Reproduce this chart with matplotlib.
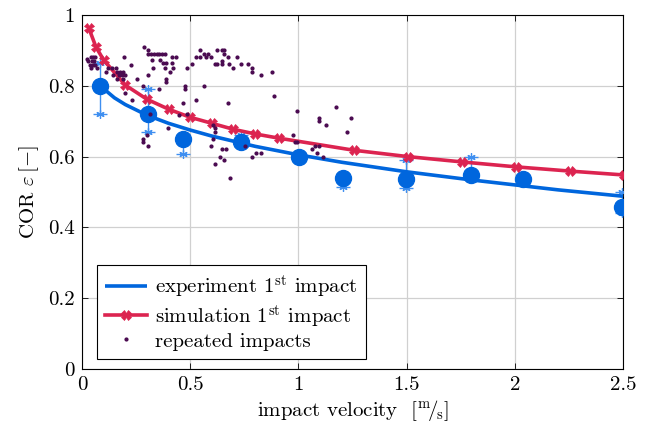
import matplotlib
matplotlib.use('Agg')
import matplotlib.pyplot as plt
import numpy as np

plt.rcParams['font.family'] = 'cmr10'
plt.rcParams['mathtext.fontset'] = 'cm'
plt.rcParams['axes.unicode_minus'] = False
plt.rcParams['font.size'] = 15

# experiment 1st impact: mean values with min/max range
exp_v = [0.083, 0.307, 0.465, 0.735, 1.004, 1.204, 1.497, 1.796, 2.036, 2.497]
exp_cor = [0.80, 0.72, 0.65, 0.64, 0.60, 0.54, 0.538, 0.548, 0.538, 0.458]
exp_lo = [0.72, 0.67, 0.607, 0.63, 0.60, 0.515, 0.51, 0.548, 0.538, 0.44]
exp_hi = [0.864, 0.79, 0.65, 0.66, 0.60, 0.54, 0.59, 0.60, 0.538, 0.50]

# fitted curve of the experiment
fit_v = [0.08, 0.15, 0.2, 0.3, 0.4, 0.5, 0.6, 0.8, 1.0, 1.2, 1.5, 1.8, 2.0, 2.2, 2.5]
fit_cor = [0.802, 0.766, 0.747, 0.717, 0.694, 0.675, 0.658, 0.629, 0.605,
           0.584, 0.557, 0.534, 0.520, 0.506, 0.488]

# simulation 1st impact
sim_v = [0.031, 0.065, 0.10, 0.20, 0.30, 0.40, 0.50, 0.60, 0.70, 0.80, 0.91,
         1.255, 1.505, 1.755, 2.005, 2.255, 2.505]
sim_cor = [0.964, 0.909, 0.873, 0.802, 0.762, 0.734, 0.711, 0.694, 0.677,
           0.664, 0.652, 0.618, 0.600, 0.585, 0.571, 0.559, 0.548]

# repeated impacts
rep_v = [0.03, 0.04, 0.05, 0.06, 0.035, 0.045, 0.055, 0.04, 0.05, 0.06, 0.07, 0.025,
         0.14, 0.155, 0.16, 0.175, 0.19, 0.145, 0.17, 0.185, 0.2, 0.16, 0.19, 0.193,
         0.228, 0.255, 0.2, 0.232, 0.11, 0.12,
         0.285, 0.305, 0.305, 0.32, 0.335, 0.345, 0.355, 0.368, 0.383, 0.322, 0.36,
         0.373, 0.39, 0.414, 0.434, 0.414, 0.383, 0.422, 0.326, 0.407, 0.388, 0.388,
         0.306, 0.356, 0.282, 0.316, 0.396, 0.282, 0.30, 0.303, 0.283,
         0.545, 0.625, 0.648, 0.657, 0.565, 0.584, 0.657, 0.525, 0.545, 0.575, 0.596,
         0.676, 0.715, 0.645, 0.507, 0.615, 0.625, 0.645, 0.68, 0.735, 0.766, 0.487,
         0.696, 0.786, 0.786, 0.827, 0.877, 0.565, 0.476, 0.476, 0.525, 0.676, 0.886,
         0.487, 0.465, 0.45, 0.604, 0.615, 0.615, 0.607, 0.596, 0.645, 0.665, 0.755,
         0.636, 0.656, 0.786, 0.804, 0.826, 0.616, 0.685,
         1.175, 0.995, 1.097, 1.095, 1.245, 1.126, 1.226, 0.976, 0.984, 0.995, 1.077,
         1.097, 1.065, 1.084, 1.115]
rep_cor = [0.87, 0.88, 0.88, 0.88, 0.86, 0.87, 0.87, 0.85, 0.86, 0.86, 0.85, 0.875,
           0.85, 0.85, 0.84, 0.84, 0.84, 0.83, 0.83, 0.83, 0.83, 0.82, 0.82, 0.88,
           0.86, 0.82, 0.78, 0.76, 0.84, 0.85,
           0.91, 0.90, 0.89, 0.89, 0.89, 0.89, 0.89, 0.89, 0.89, 0.873, 0.873,
           0.864, 0.864, 0.864, 0.882, 0.882, 0.85, 0.85, 0.85, 0.84, 0.82, 0.81,
           0.83, 0.79, 0.80, 0.72, 0.68, 0.65, 0.66, 0.63, 0.64,
           0.90, 0.90, 0.90, 0.90, 0.89, 0.89, 0.89, 0.88, 0.88, 0.88, 0.88,
           0.88, 0.88, 0.87, 0.861, 0.861, 0.861, 0.861, 0.861, 0.861, 0.861, 0.85,
           0.85, 0.85, 0.84, 0.83, 0.84, 0.80, 0.80, 0.79, 0.76, 0.75, 0.77,
           0.72, 0.75, 0.717, 0.69, 0.68, 0.67, 0.65, 0.63, 0.62, 0.62, 0.63,
           0.60, 0.59, 0.60, 0.61, 0.61, 0.58, 0.54,
           0.74, 0.73, 0.71, 0.70, 0.71, 0.69, 0.67, 0.66, 0.64, 0.64, 0.63,
           0.63, 0.62, 0.61, 0.60]

blue = '#0066dd'
light_blue = '#3f8ff0'
red = '#dc2450'
purple = '#4a0a50'

fig = plt.figure(figsize=(6.49, 4.28), dpi=100)
ax = fig.add_axes([0.1263, 0.1379, 0.8336, 0.8271])

# error bars with single measurements
exp_cor_a = np.array(exp_cor)
yerr = [exp_cor_a - np.array(exp_lo), np.array(exp_hi) - exp_cor_a]
ax.errorbar(exp_v, exp_cor, yerr=yerr, fmt='none', ecolor=light_blue,
            elinewidth=1.0, capsize=5, capthick=1.0, zorder=3)
ax.plot(exp_v + exp_v, exp_lo + exp_hi, ls='none', marker=(6, 2, 0),
        ms=6, mew=0.9, color=light_blue, zorder=3)

ax.plot(fit_v, fit_cor, color=blue, lw=2.6, solid_capstyle='butt', zorder=4,
        label=r'experiment 1$^{\mathrm{st}}$ impact')
ax.plot(exp_v, exp_cor, ls='none', marker='o', ms=11.5, color=blue, zorder=5)

ax.plot(sim_v, sim_cor, color=red, lw=2.6, marker='X', ms=7, mew=0.5,
        zorder=6, label=r'simulation 1$^{\mathrm{st}}$ impact')

ax.plot(rep_v, rep_cor, ls='none', marker='o', ms=2.0, color=purple,
        zorder=7, label='repeated impacts')

ax.set_xlim(0, 2.5)
ax.set_ylim(0, 1)
ax.set_xticks([0, 0.5, 1, 1.5, 2, 2.5])
ax.set_xticklabels(['0', '0.5', '1', '1.5', '2', '2.5'])
ax.set_yticks([0, 0.2, 0.4, 0.6, 0.8, 1])
ax.set_yticklabels(['0', '0.2', '0.4', '0.6', '0.8', '1'])
ax.tick_params(direction='in', length=4, width=0.6, top=True, right=True, pad=5)
ax.grid(True, color='#d0d0d0', lw=0.9)
ax.set_axisbelow(True)
for s in ax.spines.values():
    s.set_linewidth(0.8)

ax.set_xlabel(r'impact velocity  $[{}^{\mathrm{m}}\!/\!{}_{\mathrm{s}}]$', labelpad=3)
ax.set_ylabel(r'COR $\varepsilon\,[-]$', labelpad=5)

leg = ax.legend(loc='lower left', bbox_to_anchor=(0.028, 0.028), borderaxespad=0,
                fancybox=False, edgecolor='black', framealpha=1, handlelength=2.0,
                handletextpad=0.4, labelspacing=0.12, borderpad=0.4)
leg.get_frame().set_linewidth(0.8)

fig.savefig('out.png', dpi=100)
